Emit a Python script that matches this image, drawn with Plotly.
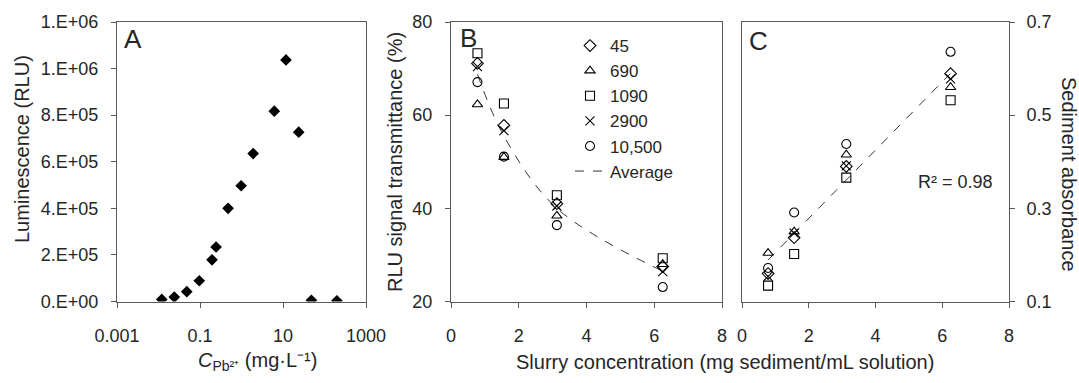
import plotly.graph_objects as go

# ---------------- Data ----------------
# Panel A: luminescence vs Pb2+ concentration
a_conc = [0.012, 0.024, 0.048, 0.096, 0.195, 0.244, 0.475, 0.98, 1.91, 6.17, 11.8, 23.9, 48.4, 199]
a_lum = [9000, 19000, 42000, 89000, 179000, 234000, 400000, 497000, 635000, 817000, 1037000, 727000, 5000, 3000]
a_yticks = [0, 200000, 400000, 600000, 800000, 1000000, 1200000]
a_yticktext = ["0.E+00", "2.E+05", "4.E+05", "6.E+05", "8.E+05", "1.E+06", "1.E+06"]
a_xticks = [0.001, 0.1, 10, 1000]
a_xticktext = ["0.001", "0.1", "10", "1000"]

# Panels B and C: slurry concentration (mg sediment/mL solution)
slurry = [0.78125, 1.5625, 3.125, 6.25]
series_names = ["45", "690", "1090", "2900", "10,500"]

# Panel B: RLU signal transmittance (%)
b_45 = [71.1, 57.8, 41.0, 27.5]
b_690 = [62.3, 51.0, 38.4, 28.0]
b_1090 = [73.3, 62.5, 42.8, 29.3]
b_2900 = [70.4, 56.7, 40.5, 26.4]
b_10500 = [67.1, 51.1, 36.4, 23.1]
b_avg = [68.8, 55.5, 40.0, 26.5]

# Panel C: sediment absorbance
c_45 = [0.160, 0.237, 0.390, 0.589]
c_690 = [0.204, 0.250, 0.415, 0.560]
c_1090 = [0.134, 0.202, 0.366, 0.532]
c_2900 = [0.154, 0.247, 0.391, 0.578]
c_10500 = [0.172, 0.291, 0.438, 0.636]
c_avg = [0.189, 0.246, 0.361, 0.590]
c_yticks = [0.1, 0.3, 0.5, 0.7]

# ---------------- Styling ----------------
W, H = 1079, 383
FONT = "Liberation Sans"
TXT = "#262626"
LINE = "#595959"
symbols = ["diamond-open", "triangle-up-open", "square-open", "x-thin-open", "circle-open"]

def px(x):
    return x / W

def py(y):
    return 1 - y / H

fig = go.Figure()

# Panel A
fig.add_trace(go.Scatter(
    x=a_conc, y=a_lum, mode="markers", xaxis="x", yaxis="y", showlegend=False,
    marker=dict(symbol="diamond", size=9, color="black")))

# Panel B
b_series = [b_45, b_690, b_1090, b_2900, b_10500]
fig.add_trace(go.Scatter(
    x=slurry, y=b_avg, mode="lines", xaxis="x2", yaxis="y2", name="Average",
    line=dict(color="#333333", width=1, dash="dash", shape="spline"), legendrank=10))
for i, (nm, vals) in enumerate(zip(series_names, b_series)):
    fig.add_trace(go.Scatter(
        x=slurry, y=vals, mode="markers", xaxis="x2", yaxis="y2", name=nm,
        legendrank=i,
        marker=dict(symbol=symbols[i], size=9, color="black",
                    line=dict(width=1.1, color="black"))))

# Panel C
c_series = [c_45, c_690, c_1090, c_2900, c_10500]
fig.add_trace(go.Scatter(
    x=slurry, y=c_avg, mode="lines", xaxis="x3", yaxis="y3", showlegend=False,
    line=dict(color="#333333", width=1, dash="dash")))
for i, vals in enumerate(c_series):
    fig.add_trace(go.Scatter(
        x=slurry, y=vals, mode="markers", xaxis="x3", yaxis="y3", showlegend=False,
        marker=dict(symbol=symbols[i], size=9, color="black",
                    line=dict(width=1.1, color="black"))))

ydom = [py(301.5), py(22)]
axis_common = dict(showline=True, linecolor=LINE, linewidth=1, mirror=True,
                   ticks="outside", ticklen=5, tickcolor=LINE, showgrid=False,
                   zeroline=False, automargin=False,
                   tickfont=dict(family=FONT, size=18, color=TXT))

fig.update_layout(
    width=W, height=H,
    margin=dict(l=0, r=0, t=0, b=0),
    paper_bgcolor="white", plot_bgcolor="white",
    font=dict(family=FONT, color=TXT),
    xaxis=dict(domain=[px(117), px(366)], type="log", range=[-3, 3],
               tickvals=a_xticks, ticktext=a_xticktext, anchor="y",
               ticklabelstandoff=13, **axis_common),
    yaxis=dict(domain=ydom, range=[0, 1200000], tickvals=a_yticks,
               ticktext=a_yticktext, anchor="x", ticklabelstandoff=9, **axis_common),
    xaxis2=dict(domain=[px(451), px(722)], range=[0, 8], dtick=2, anchor="y2",
                ticklabelstandoff=13, **axis_common),
    yaxis2=dict(domain=ydom, range=[20, 80], dtick=20, anchor="x2",
                ticklabelstandoff=9, **axis_common),
    xaxis3=dict(domain=[px(742), px(1009)], range=[0, 8], dtick=2, anchor="y3",
                ticklabelstandoff=13, **axis_common),
    yaxis3=dict(domain=ydom, range=[0.1, 0.7], tickvals=c_yticks, anchor="x3",
                side="right", tickformat=".1f", ticklabelstandoff=8, **axis_common),
    legend=dict(x=px(570), y=py(28), xanchor="left", yanchor="top",
                bgcolor="rgba(0,0,0,0)", borderwidth=0,
                font=dict(family=FONT, size=17, color=TXT),
                tracegroupgap=0),
    showlegend=True,
)

ann = []
def add_text(text, x, y, size, angle=0, **kw):
    ann.append(dict(text=text, x=px(x), y=py(y), xref="paper", yref="paper",
                    xanchor="center", yanchor="middle", showarrow=False,
                    textangle=angle, font=dict(family=FONT, size=size, color=TXT), **kw))

add_text("A", 133, 39, 26)
add_text("B", 468, 38, 26)
add_text("C", 758, 41, 26)
add_text("Luminescence (RLU)", 22, 149, 20, angle=-90)
add_text("RLU signal transmittance (%)", 395, 162, 20, angle=-90)
add_text("Sediment absorbance", 1069, 174, 20, angle=90)
add_text("Slurry concentration (mg sediment/mL solution)", 725, 362, 20)
add_text("<i>C</i><sub>Pb²⁺</sub> (mg·L⁻¹)", 257, 361, 20)
add_text("R² = 0.98", 955, 182, 18)
fig.update_layout(annotations=ann)

fig.write_html("out.html")
